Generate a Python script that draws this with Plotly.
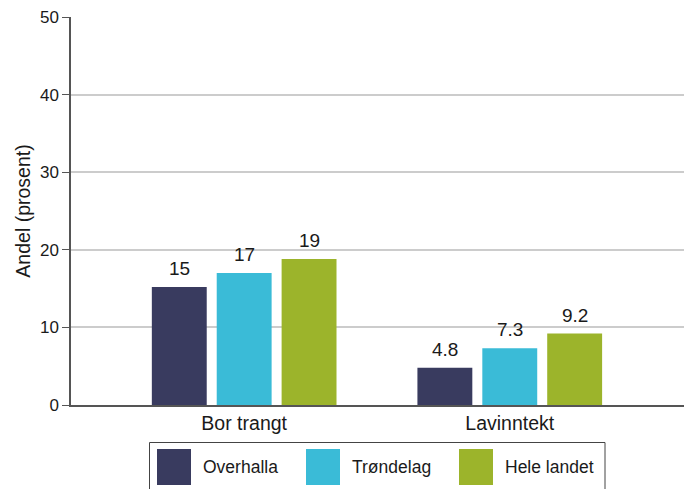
import plotly.graph_objects as go

categories = ["Bor trangt", "Lavinntekt"]
series_names = ["Overhalla", "Trøndelag", "Hele landet"]
overhalla = [15.2, 4.8]
trondelag = [17.0, 7.3]
hele_landet = [18.8, 9.2]
overhalla_labels = ["15", "4.8"]
trondelag_labels = ["17", "7.3"]
hele_landet_labels = ["19", "9.2"]
y_ticks = [0, 10, 20, 30, 40, 50]

colors = ["#393b5f", "#3abbd7", "#9cb42b"]
FONT = "Liberation Sans, Arial, sans-serif"
BARGAP = 0.267

fig = go.Figure()
all_vals = [overhalla, trondelag, hele_landet]
all_labels = [overhalla_labels, trondelag_labels, hele_landet_labels]
annotations = []
slot = (1 - BARGAP) / len(series_names)
for j, (name, vals, labels, col) in enumerate(zip(series_names, all_vals, all_labels, colors)):
    fig.add_trace(go.Bar(
        x=categories, y=vals, name=name, marker_color=col,
        marker_line_width=0, showlegend=False,
    ))
    for i, (v, lab) in enumerate(zip(vals, labels)):
        annotations.append(dict(xref="x", yref="y", x=i + (j - 1) * slot, y=v,
                                text=lab, showarrow=False, xanchor="center", yanchor="bottom",
                                yshift=6,
                                font=dict(size=19, color="#1a1a1a", family=FONT)))

W, H = 692, 489
L, R, T, B = 71, 8, 17, 84
pw, ph = W - L - R, H - T - B

def px(xp):
    return (xp - L) / pw

def py(yp):
    return (H - B - yp) / ph

shapes = []
# legend box
shapes.append(dict(type="rect", xref="paper", yref="paper",
                   x0=px(149.5), x1=px(605), y0=py(495), y1=py(442.5),
                   line=dict(color="#444444", width=1), fillcolor="rgba(0,0,0,0)"))
legend_x = [157, 306, 459]
for name, col, lx in zip(series_names, colors, legend_x):
    shapes.append(dict(type="rect", xref="paper", yref="paper",
                       x0=px(lx), x1=px(lx + 34), y0=py(485), y1=py(449),
                       line=dict(width=0), fillcolor=col))
    annotations.append(dict(xref="paper", yref="paper", x=px(lx + 44), y=py(467),
                            text=name, showarrow=False, xanchor="left", yanchor="middle",
                            font=dict(size=17.5, color="#1a1a1a", family=FONT)))

fig.update_layout(
    width=W, height=H,
    margin=dict(l=L, r=R, t=T, b=B, pad=0, autoexpand=False),
    paper_bgcolor="white", plot_bgcolor="white",
    barmode="group", bargap=BARGAP, bargroupgap=0.154,
    font=dict(family=FONT, color="#1a1a1a"),
    xaxis=dict(type="category", range=[-0.652, 1.656], automargin=False,
               showline=True, linecolor="#555555", linewidth=1.5,
               ticks="", showgrid=False,
               tickfont=dict(size=19.5, color="#1a1a1a")),
    yaxis=dict(range=[0, 50], tickvals=y_ticks, automargin=False,
               showline=True, linecolor="#555555", linewidth=1.5,
               ticks="outside", ticklen=7, tickcolor="#555555",
               showgrid=True, gridcolor="#cccccc", gridwidth=1.5,
               zeroline=False,
               tickfont=dict(size=17, color="#1a1a1a"),
               title=dict(text="Andel (prosent)", font=dict(size=19.5, color="#1a1a1a"), standoff=4)),
    shapes=shapes, annotations=annotations,
)

fig.write_html("out.html", config={"displayModeBar": False},
               post_script="document.body.style.margin='0';document.body.style.overflow='hidden';")
